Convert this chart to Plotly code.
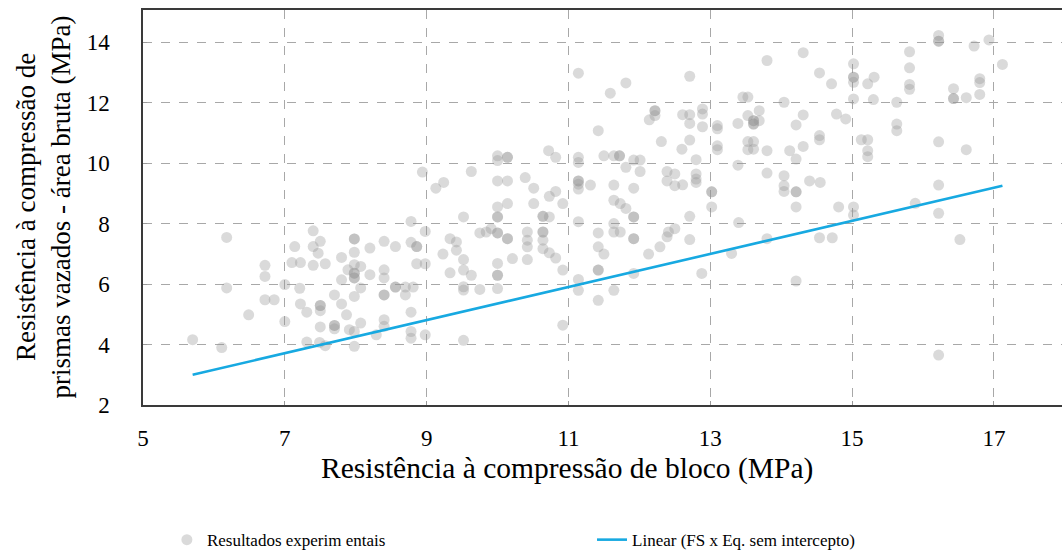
import plotly.graph_objects as go

# Experimental results: block strength (x) vs hollow prism strength, gross area (y), MPa
block_strength = [
    5.70, 6.11, 6.18, 6.18, 6.49, 6.72, 6.72, 6.72, 6.85, 7.00, 7.00, 7.14, 7.10, 7.22, 7.21, 7.22,
    7.31, 7.31, 7.40, 7.40, 7.50, 7.47, 7.40, 7.57, 7.50, 7.50, 7.50, 7.50, 7.57, 7.49, 7.70, 7.80,
    7.80, 7.80, 7.87, 7.70, 7.70, 7.70, 7.89, 7.91, 7.98, 7.98, 7.98, 7.98, 7.98, 7.98, 7.98, 7.98,
    7.98, 8.07, 8.07, 8.07, 7.98, 7.98, 8.20, 8.20, 8.29, 8.40, 8.40, 8.40, 8.40, 8.40, 8.40, 8.40,
    8.56, 8.56, 8.56, 8.70, 8.70, 8.78, 8.78, 8.86, 8.86, 8.86, 8.81, 8.78, 8.78, 8.78, 8.94, 8.98,
    8.98, 8.98,
    11.14, 11.59, 11.81, 12.22, 12.22, 12.22, 12.14, 11.42, 12.31, 10.00, 10.00, 10.14, 10.14, 10.72,
    10.82, 11.14, 11.14, 11.50, 11.64, 11.72, 11.72, 11.92, 12.01, 11.81, 12.01, 12.39, 12.50, 12.39,
    12.50, 9.63, 9.13, 9.24, 10.00, 10.14, 10.39, 10.51, 10.82, 10.73, 11.14, 11.14, 11.14, 11.14,
    11.31, 11.64, 11.92,
    10.00, 10.14, 10.00, 10.00, 9.52, 10.51, 10.92, 10.64, 10.64, 10.73, 11.14, 11.64, 11.73, 11.81,
    11.92, 11.92, 11.64, 11.64, 11.73, 11.92, 11.92, 11.42, 11.42, 11.50, 11.42, 11.42, 11.14, 11.14,
    11.42, 11.64, 11.92, 12.13, 12.29, 12.39, 12.41, 12.50, 9.33, 9.42, 9.42, 9.23, 9.52, 9.33, 9.52,
    9.63, 9.52, 9.52, 9.75, 9.75, 9.84, 9.91, 10.00, 10.00, 10.14, 10.14, 10.00, 10.00, 10.00, 10.00,
    10.21, 10.42, 10.42, 10.42, 10.42, 10.64, 10.64, 10.64, 10.64, 10.73, 10.82, 10.92, 10.92, 9.52,
    12.71, 13.80, 14.31, 14.54, 14.71, 15.02, 15.02, 15.02, 15.02, 15.02, 15.22, 15.31, 15.30, 15.63,
    15.63, 15.63, 13.46, 13.53, 14.04, 12.89, 12.89, 12.61, 12.71, 12.71, 12.89, 13.10, 13.10, 13.39,
    13.53, 13.61, 13.61, 13.61, 13.61, 13.69, 13.69, 14.21, 14.31, 14.78, 14.91, 12.71, 12.60, 13.10,
    13.10, 13.53, 13.61, 13.53, 13.61, 13.80, 14.12, 14.31, 14.21, 14.54, 14.54, 15.13, 15.22, 15.22,
    15.22, 12.80, 13.39, 12.61, 12.80, 12.80, 12.80, 13.02, 13.02, 13.80, 14.04, 14.04, 14.04, 14.21,
    14.21, 14.40, 14.55,
    13.02, 14.21, 14.81, 15.02, 15.02, 12.71, 12.71, 13.40, 13.80, 14.54, 14.72, 13.30, 12.88, 14.21,
    15.81, 15.81, 15.81, 15.81, 16.22, 16.22, 16.22, 16.72, 16.93, 17.12, 16.43, 16.43, 16.43, 16.61,
    16.80, 16.80, 16.80, 16.22, 16.61, 16.22, 15.89, 16.22, 16.52, 16.22,
]
prism_strength = [
    4.16, 3.90, 7.54, 5.87, 4.98, 6.62, 6.25, 5.48, 5.48, 5.98, 4.76, 7.24, 6.71, 6.71, 5.86, 5.34,
    5.07, 4.08, 7.76, 7.24, 7.41, 7.02, 6.62, 6.67, 5.29, 5.29, 5.12, 4.58, 3.96, 4.07, 5.64, 6.88,
    6.14, 5.34, 4.98, 4.63, 4.63, 4.52, 6.47, 4.49, 7.49, 7.49, 7.05, 6.64, 6.36, 6.36, 6.20, 6.20,
    5.59, 6.58, 5.87, 4.71, 3.94, 4.43, 7.19, 6.31, 4.32, 7.41, 6.47, 6.20, 5.64, 5.64, 4.82, 4.60,
    7.24, 5.90, 5.90, 5.90, 5.64, 8.07, 7.38, 7.24, 7.24, 6.67, 5.90, 5.07, 4.43, 4.21, 9.70, 7.74,
    6.67, 4.32,
    12.97, 12.31, 12.65, 11.73, 11.73, 11.57, 11.43, 11.07, 10.71, 10.24, 10.08, 10.19, 10.19, 10.41,
    10.19, 10.19, 10.02, 10.24, 10.24, 10.24, 10.24, 10.10, 10.10, 9.86, 9.72, 9.72, 9.64, 9.41,
    9.25, 9.72, 9.17, 9.36, 9.41, 9.41, 9.52, 9.17, 9.06, 8.90, 9.41, 9.41, 9.30, 9.14,
    9.27, 9.27, 9.17,
    8.55, 8.66, 8.22, 8.22, 8.22, 8.66, 8.66, 8.24, 8.24, 8.22, 8.06, 8.77, 8.66, 8.50,
    8.22, 8.22, 8.00, 7.72, 7.72, 7.50, 7.50, 7.69, 7.23, 6.99, 6.46, 6.46, 6.15, 5.79,
    5.46, 5.79, 6.35, 6.99, 7.23, 7.56, 7.72, 7.83, 7.50, 7.39, 7.12, 6.99, 6.81, 6.37, 6.46,
    6.29, 5.91, 5.80, 5.82, 7.69, 7.72, 7.83, 7.69, 7.69, 7.50, 7.50, 6.68, 6.29, 6.29, 5.85,
    6.84, 7.72, 7.45, 7.23, 6.81, 7.72, 7.72, 7.45, 7.17, 7.03, 6.86, 6.46, 4.64, 4.14,
    12.87, 13.39, 13.65, 12.98, 12.62, 13.28, 12.84, 12.84, 12.67, 12.12, 12.62, 12.84, 12.10, 12.01,
    11.29, 11.07, 12.18, 12.18, 12.01, 11.79, 11.62, 11.60, 11.60, 11.31, 11.20, 11.24, 11.13, 11.31,
    11.57, 11.40, 11.40, 11.29, 11.29, 11.73, 11.40, 11.26, 11.59, 11.62, 11.46, 10.76, 10.46, 10.57,
    10.44, 10.71, 10.71, 10.44, 10.46, 10.41, 10.41, 10.55, 10.13, 10.91, 10.77, 10.77, 10.77, 10.41,
    10.21, 10.11, 9.93, 9.28, 9.64, 9.47, 9.36, 9.05, 9.05, 9.67, 9.58, 9.25, 9.06, 9.05,
    9.05, 9.41, 9.36,
    8.55, 8.55, 8.55, 8.55, 8.28, 8.24, 7.47, 8.03, 7.50, 7.53, 7.53, 7.01, 6.35, 6.10,
    13.68, 13.15, 12.60, 12.44, 14.22, 14.03, 14.03, 13.87, 14.07, 13.26, 12.46, 12.13, 12.13, 12.16,
    12.79, 12.66, 12.27, 10.70, 10.44, 9.27, 8.67, 8.34, 7.47, 3.65,
]

# Fitted line without intercept, drawn between its end points
fit_x = [5.70, 17.12]
fit_y = [3.00, 9.25]

x_ticks = [5, 7, 9, 11, 13, 15, 17]
y_ticks = [2, 4, 6, 8, 10, 12, 14]

serif = "'Liberation Serif', 'Times New Roman', 'DejaVu Serif', serif"

fig = go.Figure()
fig.add_trace(go.Scatter(
    x=block_strength, y=prism_strength, mode="markers",
    name="Resultados experim entais",
    marker=dict(size=11, color="rgba(150,150,150,0.35)", line=dict(width=0)),
    legend="legend",
))
fig.add_trace(go.Scatter(
    x=fit_x, y=fit_y, mode="lines",
    name="Linear (FS x Eq. sem intercepto)",
    line=dict(color="#17a9e1", width=2.6),
    legend="legend2",
))

axis_common = dict(
    showgrid=True, gridcolor="#a8a8a8", gridwidth=1, griddash="dash",
    showline=True, linecolor="#3a3a3a", linewidth=1.5,
    ticks="inside", ticklen=4, tickcolor="#9a9a9a", automargin=False,
    zeroline=False, tickfont=dict(family=serif, size=23, color="black"),
)

# x axis mirrored to give the top frame line; no frame line on the right
fig.update_xaxes(range=[5, 17.96], tickvals=x_ticks, ticklabelstandoff=12,
                 tickangle=0, mirror=True, **axis_common)
fig.update_yaxes(range=[2, 15.06], tickvals=y_ticks, ticklabelstandoff=27,
                 mirror=False, **axis_common)

fig.add_annotation(
    text="Resistência à compressão de bloco (MPa)",
    xref="paper", yref="paper", x=0.4614, y=-0.16,
    xanchor="center", yanchor="middle", showarrow=False,
    font=dict(family=serif, size=29.5, color="black"),
)
fig.add_annotation(
    text="Resistência à compressão de<br>prismas vazados - área bruta (MPa)",
    xref="paper", yref="paper", x=-0.1088, y=0.5,
    xanchor="center", yanchor="middle", showarrow=False, textangle=-90,
    font=dict(family=serif, size=27, color="black"),
)

legend_font = dict(family=serif, size=17, color="black")
fig.update_layout(
    width=1062, height=559,
    margin=dict(l=143, r=0, t=10, b=154, autoexpand=False),
    paper_bgcolor="white", plot_bgcolor="white",
    showlegend=True,
    legend=dict(x=0.026, y=-0.342, xanchor="left", yanchor="middle",
                font=legend_font, bgcolor="rgba(0,0,0,0)"),
    legend2=dict(x=0.4886, y=-0.342, xanchor="left", yanchor="middle",
                 font=legend_font, bgcolor="rgba(0,0,0,0)"),
)

fig.write_html("out.html")
